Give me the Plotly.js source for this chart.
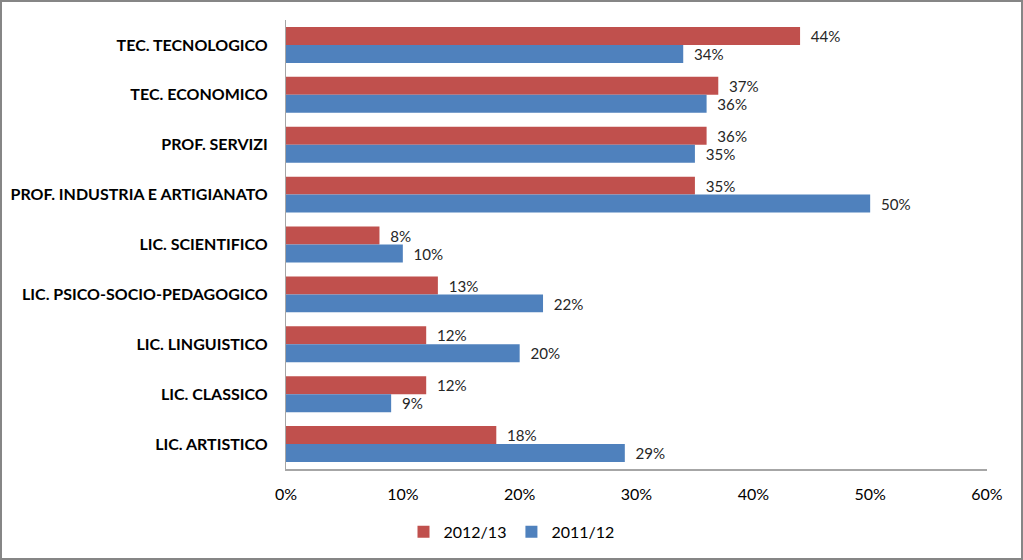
<!DOCTYPE html>
<html>
<head>
<meta charset="utf-8">
<script src="https://cdn.plot.ly/plotly-3.0.1.min.js"></script>
<style>
html,body{margin:0;padding:0;background:#fff;}
#chart{width:1019px;height:556px;border:2px solid #868686;}
</style>
</head>
<body>
<div id="chart"></div>
<script>
const categories = [
  "TEC. TECNOLOGICO",
  "TEC. ECONOMICO",
  "PROF. SERVIZI",
  "PROF. INDUSTRIA E ARTIGIANATO",
  "LIC. SCIENTIFICO",
  "LIC. PSICO-SOCIO-PEDAGOGICO",
  "LIC. LINGUISTICO",
  "LIC. CLASSICO",
  "LIC. ARTISTICO"
];
const series2012_13 = [0.44, 0.37, 0.36, 0.35, 0.08, 0.13, 0.12, 0.12, 0.18];
const series2011_12 = [0.34, 0.36, 0.35, 0.50, 0.10, 0.22, 0.20, 0.09, 0.29];
const xTickVals = [0, 0.1, 0.2, 0.3, 0.4, 0.5, 0.6];
const xTickText = ["0%", "10%", "20%", "30%", "40%", "50%", "60%"];

const font = "Lato, 'Open Sans', sans-serif";
const traces = [
  {type:"bar", orientation:"h", name:"2012/13", y:categories, x:series2012_13,
   marker:{color:"#C0504D"}, texttemplate:"\u00a0\u00a0%{x:.0%}", textposition:"outside",
   cliponaxis:false, textfont:{family:font,size:16,color:"#262626"}, hoverinfo:"skip"},
  {type:"bar", orientation:"h", name:"2011/12", y:categories, x:series2011_12,
   marker:{color:"#4F81BD"}, texttemplate:"\u00a0\u00a0%{x:.0%}", textposition:"outside",
   cliponaxis:false, textfont:{family:font,size:16,color:"#262626"}, hoverinfo:"skip"}
];
const layout = {
  width:1019, height:556,
  margin:{l:284, r:34, t:18, b:89},
  paper_bgcolor:"#fff", plot_bgcolor:"#fff",
  barmode:"group", bargap:0.28, bargroupgap:0,
  font:{family:font, color:"#000"},
  xaxis:{range:[0,0.6], tickvals:xTickVals, ticktext:xTickText, showgrid:false, zeroline:false,
    showline:true, linecolor:"#a6a6a6", linewidth:2, ticks:"outside", ticklen:10, tickcolor:"rgba(0,0,0,0)",
    tickfont:{family:font,size:16,color:"#000"}, fixedrange:true},
  yaxis:{autorange:"reversed", type:"category", showgrid:false, zeroline:false,
    showline:true, linecolor:"#a6a6a6", linewidth:1, ticks:"outside", ticklen:14, tickcolor:"rgba(0,0,0,0)",
    tickfont:{family:font,size:16,color:"#000",weight:"bold"}, fixedrange:true},
  showlegend:true,
  legend:{orientation:"h", xref:"container", yref:"container", x:0.5, xanchor:"center", y:0.047, yanchor:"middle",
    font:{family:font,size:16,color:"#000"}, itemwidth:30, traceorder:"normal"}
};
Plotly.newPlot("chart", traces, layout, {displayModeBar:false, staticPlot:true});
</script>
</body>
</html>
